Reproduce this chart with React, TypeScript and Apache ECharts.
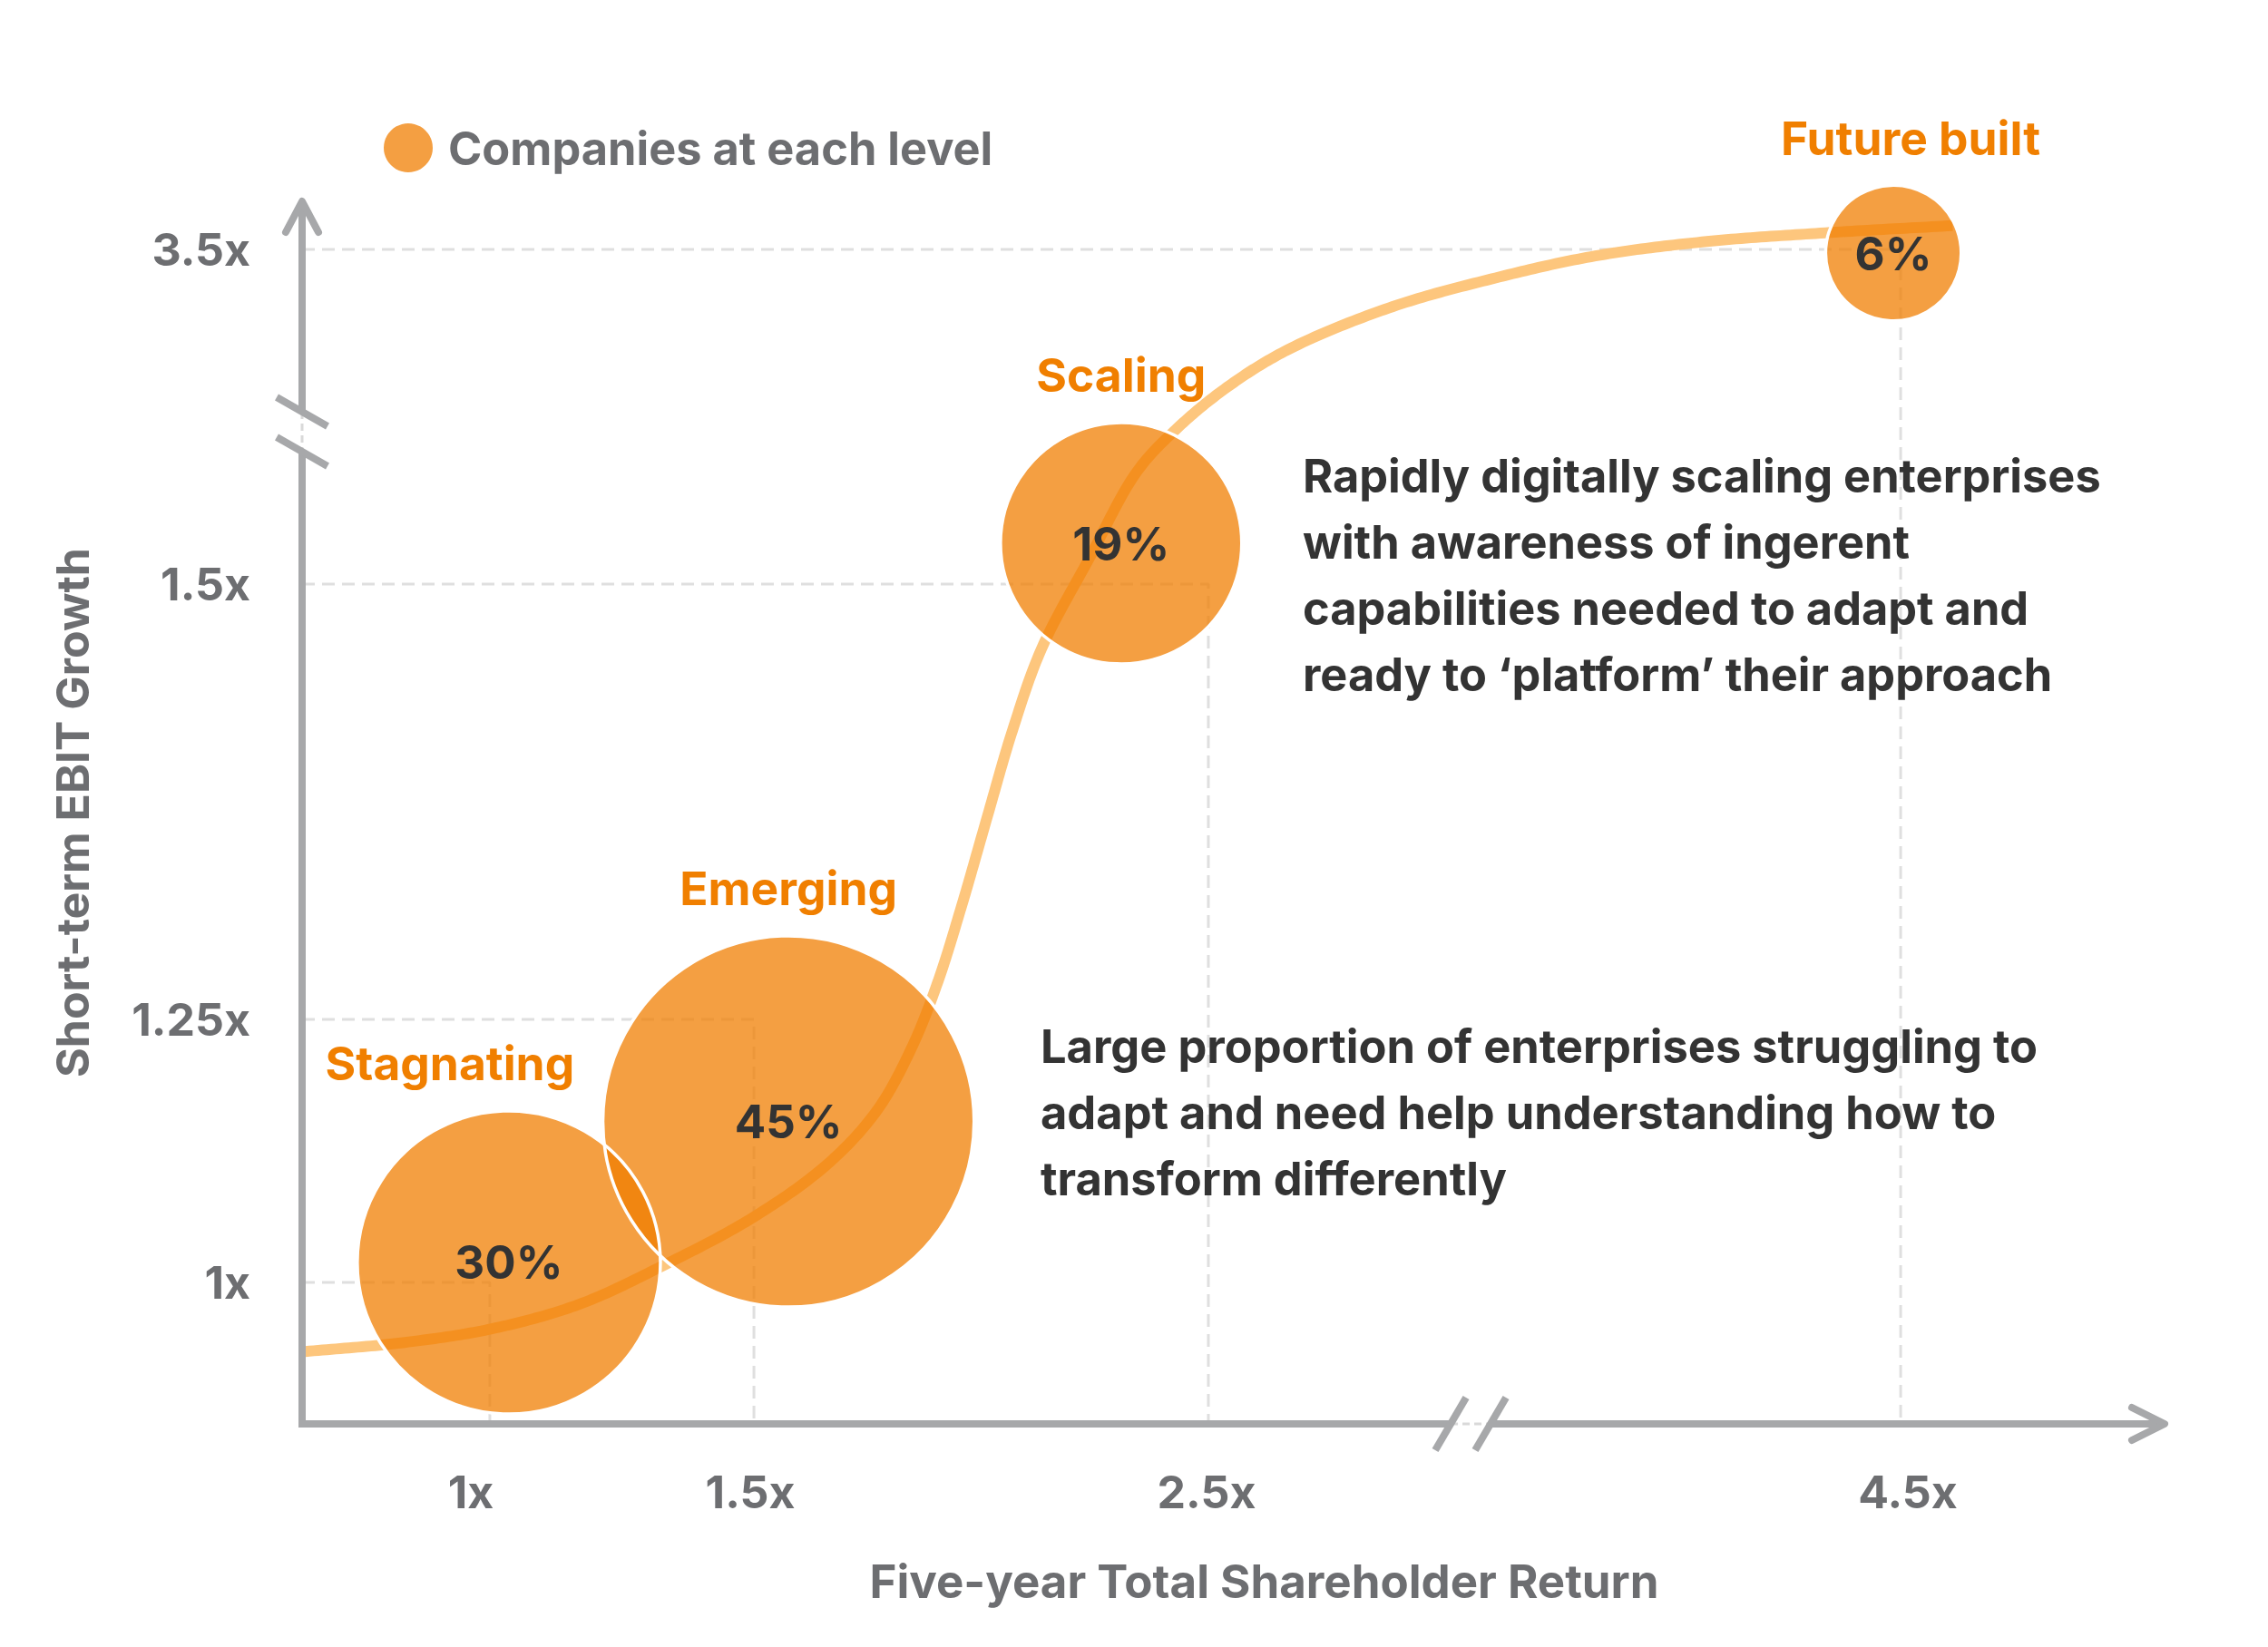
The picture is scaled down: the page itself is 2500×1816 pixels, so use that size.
import React, { useEffect, useRef } from 'react';
import * as echarts from 'echarts';

// ---- data ----
const xTickValues = [1, 1.5, 2.5, 4.5];
const xTickLabels = ['1x', '1.5x', '2.5x', '4.5x'];
const yTickValues = [1, 1.25, 1.5, 3.5];
const yTickLabels = ['1x', '1.25x', '1.5x', '3.5x'];

const stageNames = ['Stagnating', 'Emerging', 'Scaling', 'Future built'];
const stageTSR = [1.036, 1.576, 2.308, 4.479];
const stageEBIT = [1.019, 1.153, 1.744, 3.478];
const stageShare = [30, 45, 19, 6];

const curveTSR = [0.642, 0.839, 1.004, 1.168, 1.324, 1.499, 1.662, 1.77, 1.846, 1.904, 1.958, 2.012, 2.069, 2.133, 2.238, 2.343, 2.432, 2.553, 2.728, 3.021, 3.317, 3.618, 3.94, 4.283, 4.65];
const curveEBIT = [0.934, 0.943, 0.956, 0.979, 1.015, 1.062, 1.1125, 1.163, 1.222, 1.271, 1.316, 1.365, 1.416, 1.463, 1.655, 2.173, 2.433, 2.675, 2.899, 3.15, 3.323, 3.461, 3.547, 3.599, 3.642];

const annotationTop = [
  'Rapidly digitally scaling enterprises',
  'with awareness of ingerent',
  'capabilities needed to adapt and',
  'ready to \u2018platform\u2019 their approach',
];
const annotationBottom = [
  'Large proportion of enterprises struggling to',
  'adapt and need help understanding how to',
  'transform differently',
];

// ---- layout (broken axes: where each tick sits, % of axis length) ----
const X_TICK_POS = [10.08, 24.26, 48.66, 85.83];
const Y_TICK_POS = [11.57, 33.09, 68.69, 96.07];
const X_BREAK_POS = 62.74;
const Y_BREAK_POS = 81.16;
const LABEL_SHIFT = [-65, 0, 0, 19];
const X_LABEL_SHIFT = [-21, -4, -2, 8];

const FONT = 'Inter';
const GRAY = '#6d6e71';
const AXIS = '#a7a8aa';
const ORANGE = '#f07f00';
const DARK = '#333333';

function piecewise(v: number, vals: number[], pos: number[]) {
  let i = 0;
  if (v <= vals[0]) i = 0;
  else if (v >= vals[vals.length - 1]) i = vals.length - 2;
  else {
    while (v > vals[i + 1]) i++;
  }
  const t = (v - vals[i]) / (vals[i + 1] - vals[i]);
  return pos[i] + t * (pos[i + 1] - pos[i]);
}
const sx = (v: number) => piecewise(v, xTickValues, X_TICK_POS);
const sy = (v: number) => piecewise(v, yTickValues, Y_TICK_POS);

function nearestIndex(v: number, pos: number[]) {
  let best = 0;
  for (let i = 1; i < pos.length; i++) if (Math.abs(pos[i] - v) < Math.abs(pos[best] - v)) best = i;
  return best;
}

// centripetal Catmull-Rom through pixel points (rendering only)
function spline(pts: number[][], steps: number) {
  const n = pts.length;
  if (n < 3) return pts;
  const out: number[][] = [];
  const dist = (a: number[], b: number[]) => Math.max(1e-6, Math.pow(Math.hypot(b[0] - a[0], b[1] - a[1]), 0.5));
  const lerp = (a: number[], b: number[], ta: number, tb: number, t: number) => {
    const w = (t - ta) / (tb - ta);
    return [a[0] + (b[0] - a[0]) * w, a[1] + (b[1] - a[1]) * w];
  };
  for (let i = 0; i < n - 1; i++) {
    const p1 = pts[i];
    const p2 = pts[i + 1];
    const p0 = i > 0 ? pts[i - 1] : [2 * p1[0] - p2[0], 2 * p1[1] - p2[1]];
    const p3 = i < n - 2 ? pts[i + 2] : [2 * p2[0] - p1[0], 2 * p2[1] - p1[1]];
    const t0 = 0;
    const t1 = t0 + dist(p0, p1);
    const t2 = t1 + dist(p1, p2);
    const t3 = t2 + dist(p2, p3);
    for (let s = 0; s < steps; s++) {
      const t = t1 + ((t2 - t1) * s) / steps;
      const a1 = lerp(p0, p1, t0, t1, t);
      const a2 = lerp(p1, p2, t1, t2, t);
      const a3 = lerp(p2, p3, t2, t3, t);
      const b1 = lerp(a1, a2, t0, t2, t);
      const b2 = lerp(a2, a3, t1, t3, t);
      out.push(lerp(b1, b2, t1, t2, t));
    }
  }
  out.push(pts[n - 1]);
  return out;
}

export default function App() {
  const ref = useRef<HTMLDivElement>(null);
  useEffect(() => {
    document.body.style.margin = '0';
    const chart = echarts.init(ref.current!, null, { renderer: 'svg' });

    const guideSeries = xTickValues.map((xv, i) => ({
      type: 'line',
      name: 'guide' + i,
      data: [
        [0, sy(yTickValues[i])],
        [sx(xv), sy(yTickValues[i])],
        [sx(xv), 0],
      ],
      symbol: 'none',
      silent: true,
      clip: false,
      lineStyle: { color: '#dfdfdf', width: 3, type: [14, 8] },
      z: 1,
    }));

    const curveData = curveTSR.map((x, i) => [sx(x), sy(curveEBIT[i])]);

    const bubbleData = stageNames.map((n, i) => ({
      name: n,
      value: [sx(stageTSR[i]), sy(stageEBIT[i]), stageShare[i]],
    }));
    const size = (v: number[]) => 61 * Math.sqrt(v[2]);

    const xRich: any = {};
    X_LABEL_SHIFT.forEach((s, i) => {
      xRich['t' + i] = {
        fontFamily: FONT,
        fontSize: 50,
        fontWeight: 'bold',
        color: GRAY,
        padding: s < 0 ? [0, -2 * s, 0, 0] : [0, 0, 0, 2 * s],
      };
    });

    const option: any = {
      animation: false,
      grid: { left: 333, right: 114, top: 222, bottom: 246, containLabel: false },
      legend: {
        data: [{ name: 'Companies at each level', icon: 'circle' }],
        left: 418,
        top: 131,
        itemWidth: 54,
        itemHeight: 54,
        textStyle: {
          fontFamily: FONT,
          fontSize: 50.5,
          fontWeight: 'bold',
          color: GRAY,
          padding: [0, 0, 0, 12],
        },
      },
      xAxis: {
        type: 'value',
        min: 0,
        max: 100,
        axisLine: { show: false },
        axisTick: { show: false },
        splitLine: { show: false },
        axisLabel: {
          customValues: X_TICK_POS,
          formatter: (v: number) => {
            const i = nearestIndex(v, X_TICK_POS);
            return '{t' + i + '|' + xTickLabels[i] + '}';
          },
          rich: xRich,
          margin: 50,
          fontFamily: FONT,
          fontSize: 50,
          fontWeight: 'bold',
          color: GRAY,
        },
        name: 'Five-year Total Shareholder Return',
        nameLocation: 'middle',
        nameGap: 148,
        nameTextStyle: {
          fontFamily: FONT,
          fontSize: 51,
          fontWeight: 'bold',
          color: GRAY,
          padding: [0, 0, 0, 68],
        },
      },
      yAxis: {
        type: 'value',
        min: 0,
        max: 100,
        axisLine: { show: false },
        axisTick: { show: false },
        splitLine: { show: false },
        axisLabel: {
          customValues: Y_TICK_POS,
          formatter: (v: number) => yTickLabels[nearestIndex(v, Y_TICK_POS)],
          margin: 57,
          fontFamily: FONT,
          fontSize: 50,
          fontWeight: 'bold',
          color: GRAY,
        },
        name: 'Short-term EBIT Growth',
        nameLocation: 'middle',
        nameGap: 228,
        nameTextStyle: { fontFamily: FONT, fontSize: 50, fontWeight: 'bold', color: GRAY },
      },
      series: [
        ...guideSeries,
        {
          type: 'custom',
          name: 'curve',
          data: curveData,
          encode: { x: 0, y: 1 },
          silent: true,
          clip: false,
          z: 2,
          renderItem: (params: any, api: any) => {
            if (params.dataIndex !== 0) return null;
            const pts = curveData.map((d) => api.coord(d));
            return {
              type: 'polyline',
              silent: true,
              shape: { points: spline(pts, 24) },
              style: { stroke: '#fdc67d', lineWidth: 12, fill: null, lineJoin: 'round' },
            };
          },
        },
        {
          type: 'scatter',
          name: 'Companies at each level',
          data: bubbleData,
          symbolSize: size,
          clip: false,
          itemStyle: { color: 'rgba(240,125,0,0.74)', opacity: 1 },
          label: {
            show: true,
            position: 'inside',
            formatter: (p: any) => p.value[2] + '%',
            fontFamily: FONT,
            fontSize: 51,
            fontWeight: 'bold',
            color: DARK,
          },
          z: 3,
        },
        {
          type: 'scatter',
          name: 'outline',
          data: bubbleData.map((d, i) => ({
            ...d,
            label: { offset: [LABEL_SHIFT[i], 0] },
          })),
          symbolSize: size,
          clip: false,
          silent: true,
          itemStyle: { color: 'rgba(0,0,0,0)', borderColor: '#ffffff', borderWidth: 3.5, opacity: 1 },
          label: {
            show: true,
            position: 'top',
            distance: 25,
            formatter: (p: any) => p.name,
            fontFamily: FONT,
            fontSize: 51.5,
            lineHeight: 52,
            fontWeight: 'bold',
            color: ORANGE,
          },
          z: 4,
        },
      ],
    };
    chart.setOption(option);

    const P = (x: number, y: number) => chart.convertToPixel({ gridIndex: 0 }, [x, y]) as number[];
    const [ox, oy] = P(0, 0);
    const xe = P(100, 0)[0];
    const ye = P(0, 100)[1];
    const xb = P(X_BREAK_POS, 0)[0];
    const yb = P(0, Y_BREAK_POS)[1];
    const gap = 22;
    const solid = { stroke: AXIS, lineWidth: 8, lineCap: 'butt' };
    const dashed = { stroke: '#d9d9d9', lineWidth: 3, lineDash: [8, 5] };
    const line = (x1: number, y1: number, x2: number, y2: number, style: any) => ({
      type: 'line',
      silent: true,
      z: 10,
      shape: { x1, y1, x2, y2 },
      style,
    });

    const graphic: any[] = [
      // y axis
      line(ox, oy + 4, ox, yb + gap, solid),
      line(ox, yb - gap, ox, ye + 2, solid),
      line(ox, yb - gap, ox, yb + gap, dashed),
      line(ox - 28, yb - gap - 16, ox + 28, yb - gap + 16, solid),
      line(ox - 28, yb + gap - 16, ox + 28, yb + gap + 16, solid),
      {
        type: 'polyline',
        silent: true,
        z: 10,
        shape: { points: [[ox - 18, ye + 34], [ox, ye], [ox + 18, ye + 34]] },
        style: { stroke: AXIS, lineWidth: 8, lineCap: 'round', lineJoin: 'round', fill: null },
      },
      // x axis
      line(ox - 4, oy, xb - gap, oy, solid),
      line(xb + gap, oy, xe - 2, oy, solid),
      line(xb - gap, oy, xb + gap, oy, dashed),
      line(xb - gap + 17, oy - 29, xb - gap - 17, oy + 29, solid),
      line(xb + gap + 17, oy - 29, xb + gap - 17, oy + 29, solid),
      {
        type: 'polyline',
        silent: true,
        z: 10,
        shape: { points: [[xe - 36, oy - 18], [xe, oy], [xe - 36, oy + 18]] },
        style: { stroke: AXIS, lineWidth: 8, lineCap: 'round', lineJoin: 'round', fill: null },
      },
      // annotations
      {
        type: 'text',
        silent: true,
        z: 10,
        x: 1436,
        y: 488,
        style: {
          text: annotationTop.join('\n'),
          fontFamily: FONT,
          fontSize: 50.5,
          fontWeight: 'bold',
          lineHeight: 73,
          fill: DARK,
          verticalAlign: 'top',
        },
      },
      {
        type: 'text',
        silent: true,
        z: 10,
        x: 1147,
        y: 1117,
        style: {
          text: annotationBottom.join('\n'),
          fontFamily: FONT,
          fontSize: 50.6,
          fontWeight: 'bold',
          lineHeight: 73,
          fill: DARK,
          verticalAlign: 'top',
        },
      },
    ];
    chart.setOption({ graphic });

    return () => chart.dispose();
  }, []);
  return <div ref={ref} style={{ width: 2500, height: 1816 }} />;
}
